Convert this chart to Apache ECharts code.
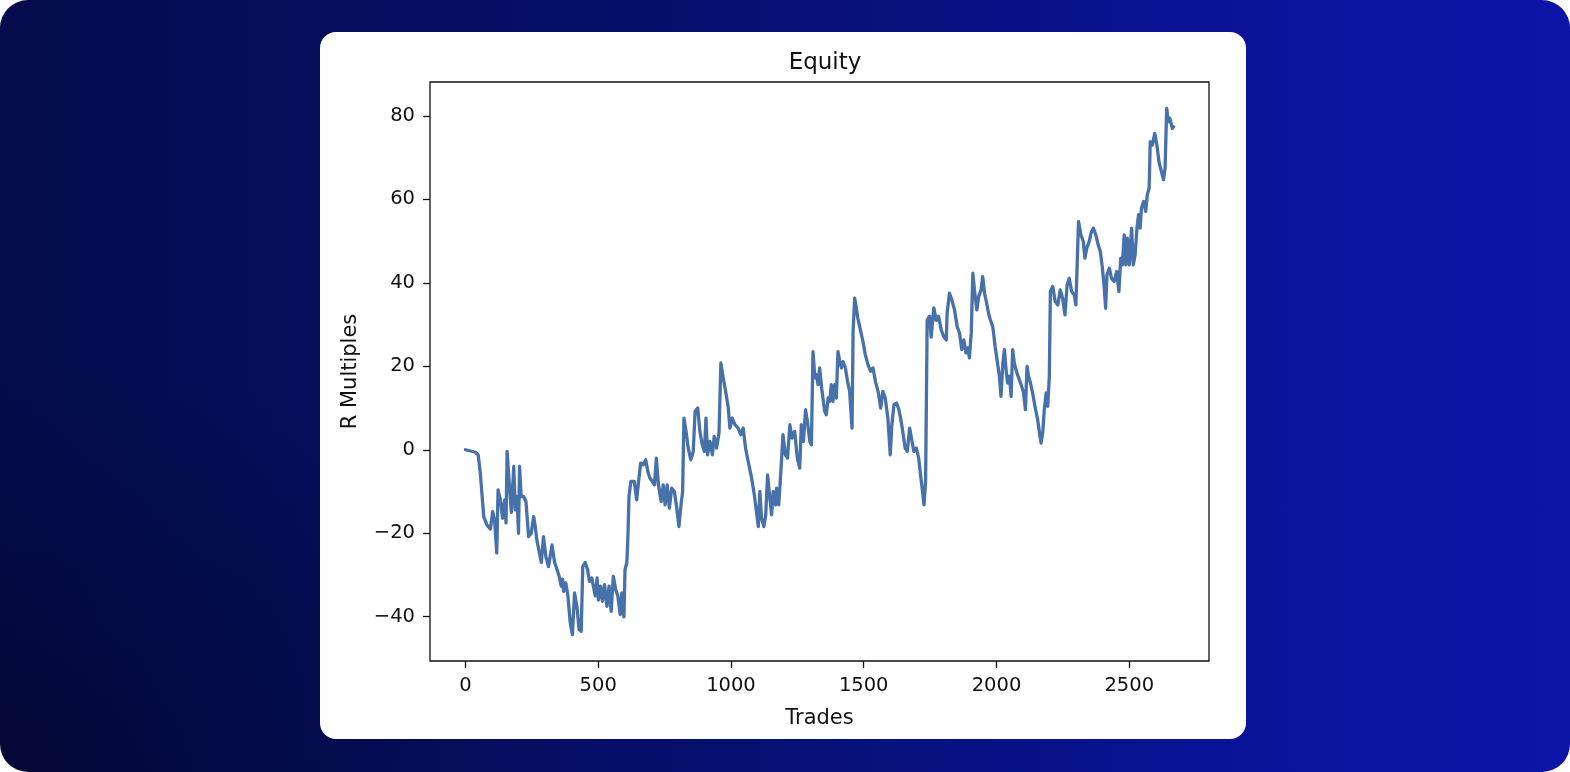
<!DOCTYPE html>
<html>
<head>
<meta charset="utf-8">
<script src="https://cdn.jsdelivr.net/npm/echarts@6/dist/echarts.min.js"></script>
<style>
  html, body { margin: 0; padding: 0; width: 1570px; height: 772px; background: #ffffff; overflow: hidden; }
  #bg { position: absolute; left: 0; top: 0; width: 1570px; height: 772px; border-radius: 28px;
        background:
          radial-gradient(ellipse 600px 420px at 0% 100%, rgba(2,6,40,0.6) 0%, rgba(2,6,40,0) 100%),
          linear-gradient(90deg, #050b4c 0%, #06106e 45%, #0a139a 80%, #0c15a6 100%); }
  #card { position: absolute; left: 320px; top: 32px; width: 926px; height: 707px; background: #ffffff; border-radius: 16px; }
  #chart { position: absolute; left: 0; top: 0; width: 1570px; height: 772px; }
</style>
</head>
<body>
<div id="bg"></div>
<div id="card"></div>
<div id="chart"></div>
<script>
// ---- data ----
const trades = [
  0,38,48,56,69,81,94,103,110,118,123,132,140,148,153,157,165,173,182,188,194,200,204,210,219,228,238,248,257,263,269,286,294,303,313,326,336,345,353,361,366,370,378,386,395,403,411,420,428,436,442,451,460,467,476,482,489,496,501,509,516,524,533,541,549,557,566,574,583,589,597,601,608,612,616,623,
  627,636,645,652,660,670,679,687,695,704,712,719,727,737,745,752,760,768,777,787,796,804,812,818,823,831,839,849,858,865,875,883,892,900,906,912,921,930,937,946,955,962,971,980,990,996,1005,1015,1027,1037,1046,1055,1065,1078,1088,1096,1103,1109,1115,1124,1131,1138,1144,1153,1159,1168,
  1172,1180,1188,1196,1205,1213,1222,1230,1240,1250,1259,1265,1273,1281,1288,1297,1303,1309,1316,1322,1328,1334,1343,1353,1359,1366,1372,1378,1384,1391,1397,1403,1410,1416,1422,1431,1439,1447,1456,1460,1466,1472,1478,1489,1497,1506,1516,1526,1535,1544,1554,1564,1572,1581,1591,1600,1606,1614,1623,1631,1639,1647,1656,1664,1673,1682,1689,1698,1707,1714,1720,1727,1733,
  1739,1748,1754,1764,1773,1782,1792,1802,1811,1814,1823,1832,1842,1852,1861,1869,1877,1885,1892,1898,1905,1911,1917,1926,1933,1942,1948,1955,1963,1970,1977,1986,1995,2002,2011,2017,2024,2030,2036,2042,2049,2055,2061,2067,2077,2086,2095,2102,2109,2115,2121,2128,2136,2145,2155,2162,2168,2174,2180,2187,2193,2199,
  2203,2212,2221,2231,2240,2249,2258,2266,2274,2283,2293,2299,2305,2309,2318,2327,2333,2340,2349,2358,2365,2374,2383,2391,2399,2406,2411,2416,2425,2433,2443,2453,2461,2468,2474,2481,2487,2493,2500,2509,2515,2522,2529,2535,2541,2546,2554,2562,2568,2575,2579,2587,2596,2604,2612,2621,2629,2635,2641,2647,2653,2662,2667
];
const equity = [
  0,-0.6,-1.2,-5.5,-16,-18,-19,-14.8,-17,-24.7,-9.6,-12,-16.4,-12,-17.5,-0.4,-8,-15,-4,-14.4,-11.2,-20,-4,-11.2,-11.2,-12.4,-20.8,-20,-16,-18.4,-21.6,-27,-20.8,-25.6,-28,-22.8,-27,-28.7,-30.3,-32.7,-31,-33.9,-31.9,-35,-41.5,-44.3,-34.3,-37.5,-43,-43.5,-28,-27,-28.7,-31.5,-30.7,-32.7,-35,-30.7,-36,-32.7,-36.3,-32.3,-37.5,-32.7,-38.7,-30.3,-33.5,-35,-39.5,-34.3,-40,-28.7,-27,-20.8,-11.2,-7.6,
  -7.6,-7.6,-12,-7.6,-3.2,-3.6,-2.4,-5.2,-6.8,-7.6,-8.4,-2,-8.4,-12.4,-8.4,-13.2,-8.4,-14,-9.2,-10,-14,-18.4,-13.2,-10,7.6,4.4,0.4,-2.4,-0.4,9.2,10,4.4,1.2,-0.4,7.6,-1.2,2,-1.2,3.2,0.4,4,20.8,17.2,14,10,5.2,7.6,6,5.2,3.6,5.2,0.4,-2.8,-6.8,-10.8,-14.8,-18.4,-10,-16.4,-18.4,-15.6,-6,-10,-15.6,-10,-13.2,
  -9.2,-13.2,-5.2,3.6,-1.2,-2,6,2.8,4.4,-2,-4.4,6,2,9.6,6.8,2,1.2,23.5,17.2,18,15.6,19.6,14,9.2,8.4,12.4,11.6,15.6,11.6,15.6,12.4,23.5,21.1,19.6,21.1,19.6,16.4,14,5.2,28.3,36.3,34,31.5,28.3,26,22.8,20.4,18.8,19.6,16.4,14,10,14,12.4,7.6,-1.2,6,10.8,11.2,10,7.6,4.4,0.4,-0.4,5.2,2,-0.4,0.4,-2,-6,-9.2,-13.2,-7.6,
  31,32,27,34,31,32,28.7,27,26.3,32.7,37.5,35.9,33.5,29.5,27.9,24,26.3,23.2,24.4,22,28,42.3,38.3,33.5,36.7,38.3,41.5,37.5,35.1,32.7,31.1,29.5,24.7,21.6,17.6,12.8,20.8,24,19.2,16,17.6,12.8,24,20.8,18.4,16.8,15.2,13.6,9.6,20,17.6,16,13.6,10.4,7.2,4,1.6,4,9.6,13.6,10.4,17.6,
  37.9,39.1,35.5,34.7,38.3,36.3,32.3,39.5,41.1,37.9,37.1,34.7,34.7,54.7,51.5,49.9,45.9,48.3,49.9,52.3,53.1,51.5,49.1,47.5,43.5,38.7,33.9,41.9,43.5,41.1,40.3,42.7,37.9,45.9,44.3,51.5,44.3,50.7,44.3,53.1,44.3,46.7,53.1,56.3,53.1,57.9,59.5,57.1,61.1,62.7,73.8,73,75.8,73,69,66.7,64.7,67.5,81.8,78.6,79.4,77,77.4
];
const xTickValues = [0, 500, 1000, 1500, 2000, 2500];
const yTickValues = [-40, -20, 0, 20, 40, 60, 80];
const chartTitle = 'Equity';
const xName = 'Trades';
const yName = 'R Multiples';

// ---- matplotlib-like 5% margins ----
const xMinD = Math.min(...trades), xMaxD = Math.max(...trades);
const yMinD = Math.min(...equity), yMaxD = Math.max(...equity);
const xPad = (xMaxD - xMinD) * 0.05, yPad = (yMaxD - yMinD) * 0.05;

const seriesData = trades.map((t, i) => [t, equity[i]]);
const FONT = 'DejaVu Sans';
const minusFmt = v => String(v).replace('-', '\u2212');

const chart = echarts.init(document.getElementById('chart'), null, { renderer: 'canvas' });
chart.setOption({
  backgroundColor: 'transparent',
  animation: false,
  title: {
    text: chartTitle,
    left: 820,
    top: 47,
    textAlign: 'center',
    textStyle: { fontFamily: FONT, fontSize: 23, fontWeight: 'normal', color: '#111' }
  },
  grid: {
    left: 430, top: 82, width: 779, height: 579,
    show: true, borderColor: '#111', borderWidth: 1.3, backgroundColor: '#fff',
    containLabel: false
  },
  xAxis: {
    type: 'value',
    position: 'bottom',
    min: xMinD - xPad,
    max: xMaxD + xPad,
    name: xName,
    nameLocation: 'middle',
    nameGap: 47,
    nameTextStyle: { fontFamily: FONT, fontSize: 21, color: '#111' },
    axisLine: { show: false, onZero: false },
    splitLine: { show: false },
    axisTick: { show: true, inside: false, length: 7, lineStyle: { color: '#111', width: 1.3 }, customValues: xTickValues },
    axisLabel: { fontFamily: FONT, fontSize: 19.5, color: '#111', margin: 15, customValues: xTickValues, formatter: minusFmt }
  },
  yAxis: {
    type: 'value',
    position: 'left',
    min: yMinD - yPad,
    max: yMaxD + yPad,
    name: yName,
    nameLocation: 'middle',
    nameRotate: 90,
    nameGap: 69,
    nameTextStyle: { fontFamily: FONT, fontSize: 21, color: '#111' },
    axisLine: { show: false, onZero: false },
    splitLine: { show: false },
    axisTick: { show: true, inside: false, length: 7, lineStyle: { color: '#111', width: 1.3 }, customValues: yTickValues },
    axisLabel: { fontFamily: FONT, fontSize: 19.5, color: '#111', margin: 15, customValues: yTickValues, formatter: minusFmt }
  },
  series: [{
    type: 'line',
    data: seriesData,
    showSymbol: false,
    symbol: 'none',
    lineStyle: { color: '#4671aa', width: 3.3, join: 'round', cap: 'round' },
    emphasis: { disabled: true }
  }]
});
</script>
</body>
</html>
